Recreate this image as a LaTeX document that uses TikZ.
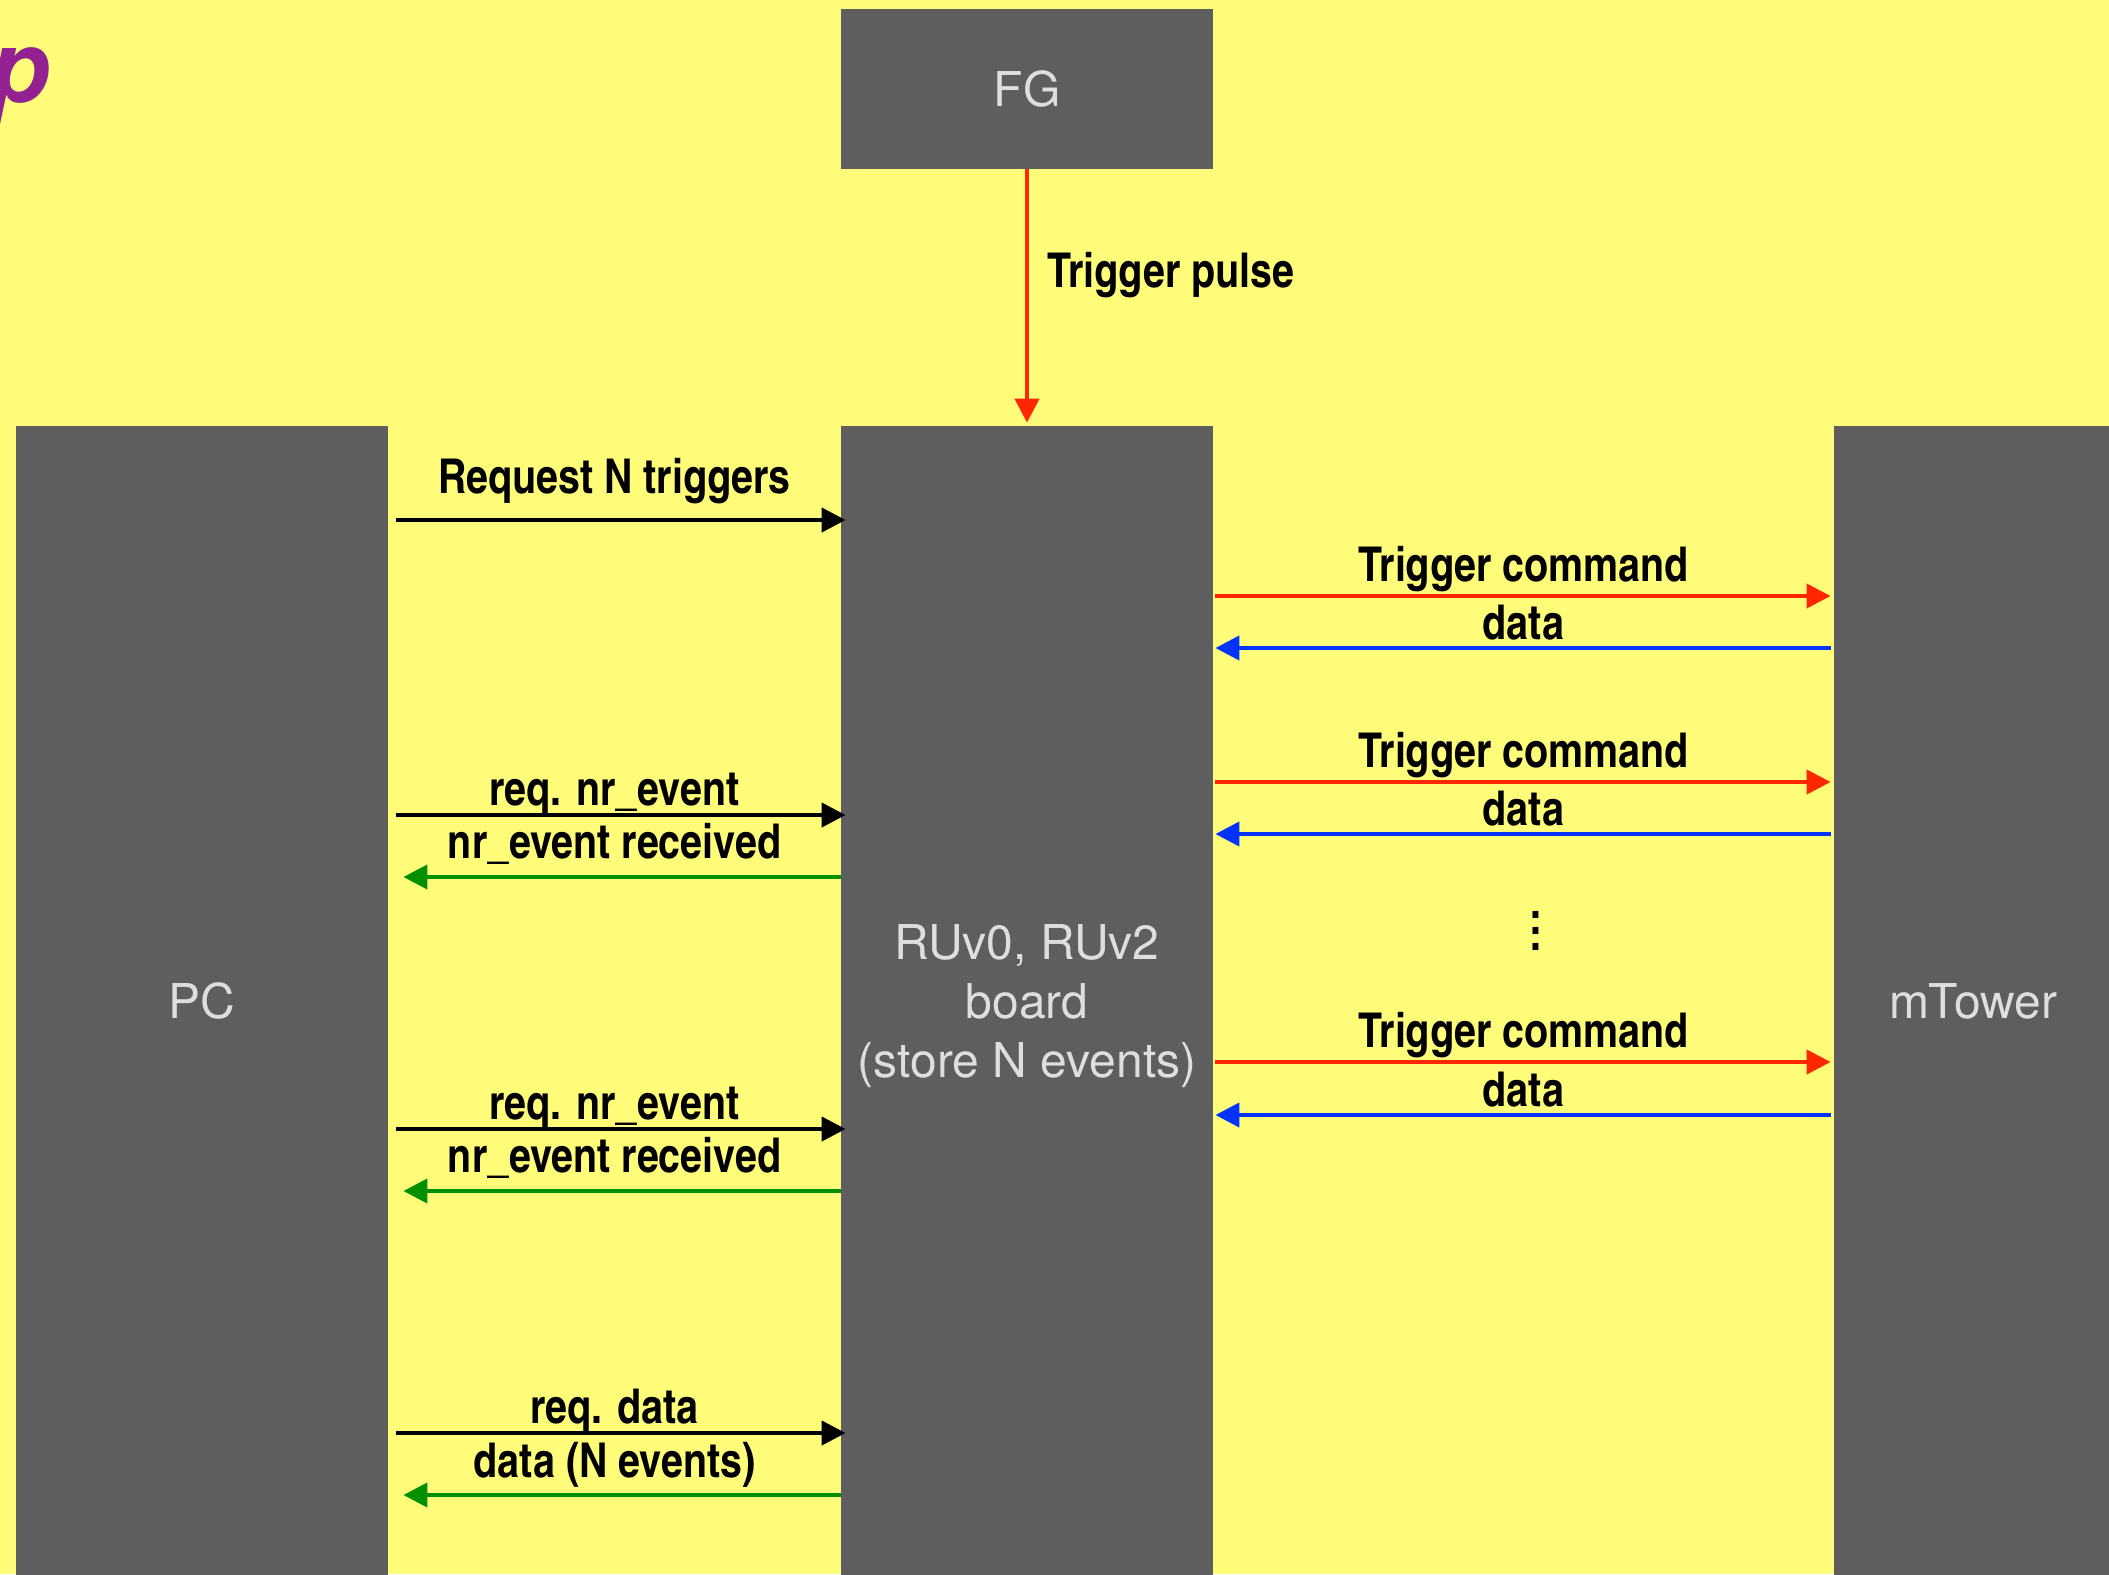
\documentclass[tikz,border=0pt]{standalone}
\usepackage{fontspec}
\setmainfont{TeX Gyre Heros}
\newfontfamily\cnbold{texgyreheroscn-bold.otf}
\usepackage{tikz}
\usetikzlibrary{arrows.meta,calc}
\definecolor{slide}{RGB}{255,252,121}
\definecolor{boxgrey}{RGB}{94,94,94}
\definecolor{boxtxt}{RGB}{222,222,222}
\definecolor{trigred}{RGB}{255,38,0}
\definecolor{datblue}{RGB}{4,51,255}
\definecolor{ackgreen}{RGB}{0,143,0}
\definecolor{plum}{RGB}{148,33,146}
\tikzset{
  unit/.style={fill=boxgrey, text=boxtxt, inner sep=0pt, align=center,
    minimum width=186pt, font=\fontsize{24}{29.5}\selectfont},
  lbl/.style={font=\cnbold\fontsize{24}{28}\selectfont, text=black,
    inner sep=0pt, anchor=base},
  msg/.style={-{Triangle[length=12pt,width=12pt]}, line width=2.1pt},
  req/.style={msg, black},
  ack/.style={msg, ackgreen},
  trig/.style={msg, trigred},
  dat/.style={msg, datblue}
}

\begin{document}
\begin{tikzpicture}[x=0.5pt, y=-0.5pt]
  \useasboundingbox (0,0) rectangle (2109,1574);
  \fill[slide] (0,0) rectangle (2109,1574);
  % cut-off title
  \node[text=plum, font=\bfseries\itshape\fontsize{50}{50}\selectfont,
    inner sep=0pt, anchor=base west] (ttl) at (-11,102) {p};
  % units
  \node[unit, minimum height=80pt] (fg) at (1027,89) {FG};
  \node[unit, minimum height=575pt] (pc) at (202,1001) {PC};
  \node[unit, minimum height=580pt] (ru) at (1027,1006) {RUv0, RUv2\\board\\(store N events)};
  \node[unit, minimum height=575pt, minimum width=139pt] (mt) at (1973,1001) {mTower};
  % trigger from FG
  \draw[trig, shorten >=1.5pt] (fg.south) -- (ru.north)
    node[lbl, midway, anchor=base west, xshift=9pt, yshift=5pt] {Trigger pulse};
  % PC <-> board
  \coordinate (r0) at (0,520);
  \draw[req, shorten <=4pt, shorten >=-2.5pt] (pc.east |- r0) -- (ru.west |- r0)
    node[lbl, midway, yshift=13.5pt] {Request N triggers};
  \foreach \ya/\yb in {815/877, 1129/1191}{
    \coordinate (qa) at (0,\ya);
    \coordinate (qb) at (0,\yb);
    \draw[req, shorten <=4pt, shorten >=-2.5pt] (pc.east |- qa) -- (ru.west |- qa)
      node[lbl, midway, yshift=5pt] {req. nr\_event};
    \draw[ack, shorten >=7.5pt] (ru.west |- qb) -- (pc.east |- qb)
      node[lbl, midway, yshift=9.5pt] {nr\_event received};
  }
  \coordinate (qa) at (0,1433);
  \coordinate (qb) at (0,1495);
  \draw[req, shorten <=4pt, shorten >=-2.5pt] (pc.east |- qa) -- (ru.west |- qa)
    node[lbl, midway, yshift=5pt] {req. data};
  \draw[ack, shorten >=7.5pt] (ru.west |- qb) -- (pc.east |- qb)
    node[lbl, midway, yshift=9pt] {data (N events)};
  % board <-> mTower
  \foreach \ya/\yb in {596/648, 782/834, 1062/1115}{
    \coordinate (ta) at (0,\ya);
    \coordinate (tb) at (0,\yb);
    \draw[trig, shorten <=1pt, shorten >=1.5pt] (ru.east |- ta) -- (mt.west |- ta)
      node[lbl, midway, yshift=7.5pt] {Trigger command};
    \draw[dat, shorten <=1.5pt, shorten >=1pt] (mt.west |- tb) -- (ru.east |- tb)
      node[lbl, midway, yshift=4.5pt] {data};
  }
  \node[lbl, anchor=center, align=center, font=\cnbold\fontsize{24}{8}\selectfont]
    (more) at (1536,931) {.\\.\\.};
\end{tikzpicture}
\end{document}
